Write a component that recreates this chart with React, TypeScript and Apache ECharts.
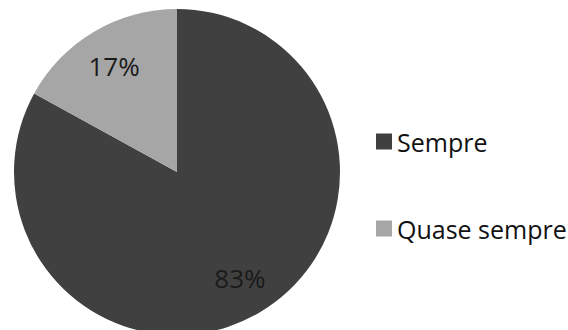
import React, { useEffect, useRef } from "react";
import * as echarts from "echarts";

const categories = ["Sempre", "Quase sempre"];
const values = [83, 17];
const colors = ["#404040", "#a6a6a6"];

export default function App() {
  const ref = useRef<HTMLDivElement>(null);
  useEffect(() => {
    document.body.style.margin = "0";
    const chart = echarts.init(ref.current!, undefined, { renderer: "svg" });
    const data = categories.map((name, i) => ({
      name,
      value: values[i],
      itemStyle: { color: colors[i] },
    }));
    const R = 163;
    chart.setOption({
      animation: false,
      backgroundColor: "#ffffff",
      legend: {
        orient: "vertical",
        left: 371,
        top: 124,
        itemWidth: 16,
        itemHeight: 16,
        itemGap: 62,
        icon: "rect",
        data: categories,
        textStyle: {
          fontFamily: "Open Sans",
          fontSize: 25,
          lineHeight: 24,
          color: "#111111",
        },
      },
      series: [
        {
          type: "pie",
          center: [177, 172],
          radius: [0, R],
          startAngle: 90,
          clockwise: true,
          silent: true,
          label: { show: false },
          labelLine: { show: false },
          itemStyle: { borderWidth: 0 },
          data,
        },
        {
          type: "pie",
          center: [177, 172],
          radius: [R * 0.48, R],
          startAngle: 90,
          clockwise: true,
          silent: true,
          legendHoverLink: false,
          itemStyle: { color: "rgba(0,0,0,0)", borderWidth: 0 },
          label: {
            show: true,
            position: "inside",
            formatter: (p: any) => `${p.value}%`,
            fontFamily: "Open Sans",
            fontSize: 26,
            color: "#1a1a1a",
          },
          labelLine: { show: false },
          data: categories.map((name, i) => ({ name: name + " ", value: values[i] })),
        },
      ],
    });
    return () => chart.dispose();
  }, []);
  return <div ref={ref} style={{ width: 568, height: 330 }} />;
}
